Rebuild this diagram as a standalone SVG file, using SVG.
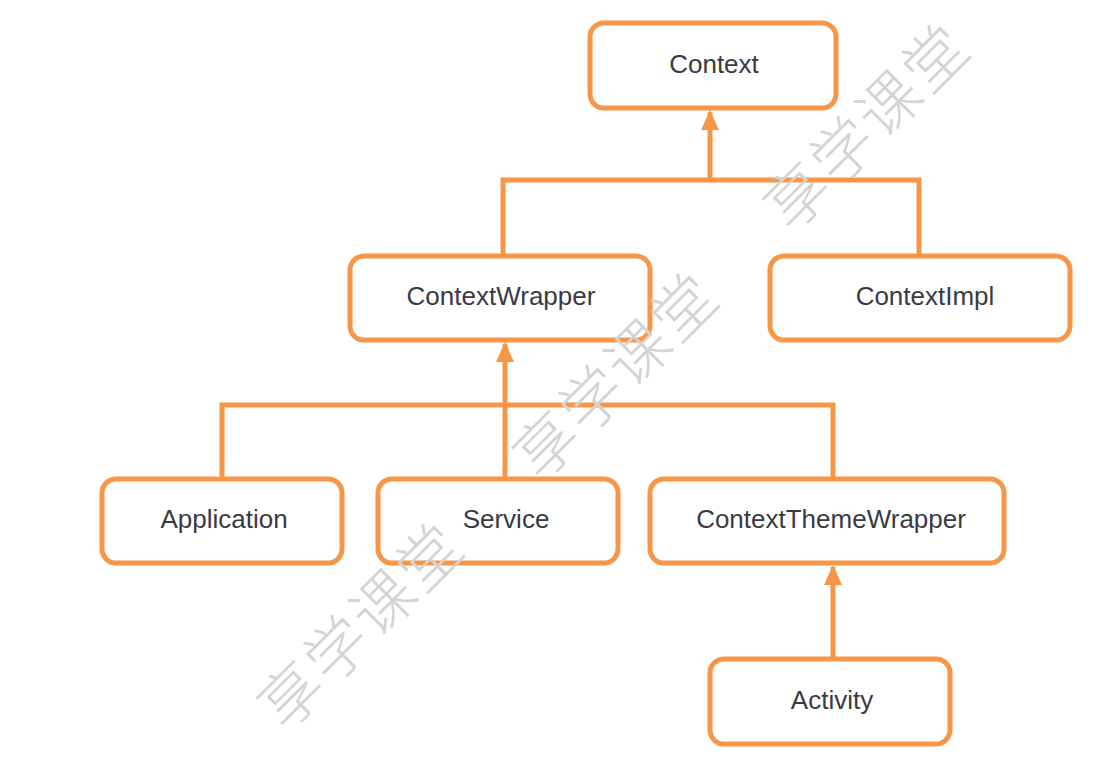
<svg xmlns="http://www.w3.org/2000/svg" width="1103" height="768" viewBox="0 0 1103 768">
<defs>
<style>
.box{fill:#fff;stroke:#F79646;stroke-width:5}
.lbl{font-family:"Liberation Sans",Arial,sans-serif;font-size:26px;fill:#3a3a44;text-anchor:middle}
.ln{fill:none;stroke:#F79646;stroke-width:5}
.wm{font-family:"Noto Sans CJK SC",sans-serif;font-size:62px;font-weight:300;fill:#d4d4d4;letter-spacing:3px}
</style>
<marker id="arr" viewBox="0 0 10 10" refX="9" refY="5" markerWidth="4" markerHeight="3.6" markerUnits="strokeWidth" orient="auto" preserveAspectRatio="none">
<path d="M0,0 L10,5 L0,10 Z" fill="#F79646"/>
</marker>
</defs>
<rect width="1103" height="768" fill="#fff"/>
<g id="connectors">
<path class="ln" d="M503,256 V180 H919 V256"/>
<path class="ln" d="M710,180 V112" marker-end="url(#arr)"/>
<path class="ln" d="M222,478 V405 H833 V478"/>
<path class="ln" d="M505,478 V344" marker-end="url(#arr)"/>
<path class="ln" d="M833,658 V567" marker-end="url(#arr)"/>
</g>
<g id="node-context"><rect class="box" x="590" y="23" width="246" height="85" rx="14"/><text class="lbl" x="714" y="73">Context</text></g>
<g id="node-contextwrapper"><rect class="box" x="350" y="256" width="300" height="84" rx="14"/><text class="lbl" x="501" y="305">ContextWrapper</text></g>
<g id="node-contextimpl"><rect class="box" x="770" y="256" width="300" height="84" rx="14"/><text class="lbl" x="925" y="305">ContextImpl</text></g>
<g id="node-application"><rect class="box" x="102" y="479" width="240" height="84" rx="14"/><text class="lbl" x="224" y="528">Application</text></g>
<g id="node-service"><rect class="box" x="378" y="479" width="240" height="84" rx="14"/><text class="lbl" x="506" y="528">Service</text></g>
<g id="node-contextthemewrapper"><rect class="box" x="650" y="479" width="354" height="84" rx="14"/><text class="lbl" x="831" y="528">ContextThemeWrapper</text></g>
<g id="node-activity"><rect class="box" x="710" y="659" width="240" height="85" rx="14"/><text class="lbl" x="832" y="709">Activity</text></g>
<g id="watermarks">
<text class="wm" transform="translate(864,123) rotate(-45)" text-anchor="middle" dominant-baseline="central">享学课堂</text>
<text class="wm" transform="translate(613,372) rotate(-45)" text-anchor="middle" dominant-baseline="central">享学课堂</text>
<text class="wm" transform="translate(358,622) rotate(-45)" text-anchor="middle" dominant-baseline="central">享学课堂</text>
</g>
</svg>
